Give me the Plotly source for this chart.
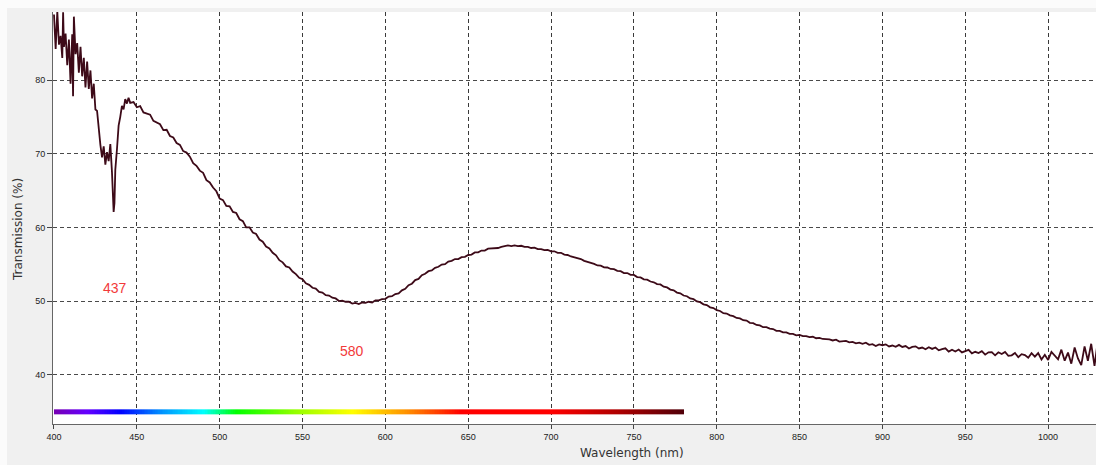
import plotly.graph_objects as go

# ---- measured transmission spectrum -------------------------------------
# Noisy short-wavelength region, sampled densely
head_nm = [400, 401, 402, 403, 404, 405, 405.5, 406, 407, 408, 409, 410, 411, 411.5,
           412, 413, 414, 415, 416, 417, 418, 419, 420, 421, 422, 423, 424, 425,
           426, 427, 428, 429, 430, 431, 432, 433, 434, 435, 435.5, 436, 436.5,
           437, 438, 439, 440, 441, 442, 443, 444, 445, 446]
head_T = [88.9, 84.2, 89.3, 84.8, 86.0, 83.0, 89.2, 84.5, 86.3, 82.0, 85.5, 79.5, 86.2, 77.8,
          88.6, 83.5, 85.0, 81.0, 84.5, 80.5, 83.0, 79.0, 82.5, 78.8, 81.3, 77.5, 79.5, 76.0,
          75.8, 73.0, 71.2, 69.5, 71.0, 68.5, 70.2, 69.0, 71.3, 67.5, 64.5, 62.1, 63.3,
          67.8, 70.6, 73.8, 75.0, 76.5, 76.0, 77.4, 76.8, 77.6, 76.9]

# Remainder of the scan, 2 nm steps from 448 nm to 1030 nm
body_nm = list(range(448, 1031, 2))
body_T = [
    77.0, 76.3, 76.45, 75.6, 75.45, 75.3, 74.45, 74.2, 74.0, 73.2,      # 448-466
    73.25, 72.4, 72.2, 71.45, 71.2, 70.35, 70.15, 69.6, 68.7, 68.35,    # 468-486
    67.7, 67.4, 66.4, 66.1, 65.4, 64.9, 63.9, 63.7, 62.9, 62.85,        # 488-506
    62.1, 61.95, 61.1, 60.85, 60.0, 60.0, 59.3, 59.1, 58.35, 58.05,     # 508-526
    57.4, 57.15, 56.55, 56.2, 55.55, 55.25, 54.7, 54.55, 54.0, 53.65,   # 528-546
    53.15, 52.95, 52.4, 52.2, 51.8, 51.7, 51.25, 51.15, 50.8, 50.75,    # 548-566
    50.45, 50.35, 50.0, 50.05, 49.9, 49.9, 49.65, 49.75, 49.6, 49.8,    # 568-586
    49.75, 49.9, 49.8, 50.1, 50.1, 50.25, 50.3, 50.6, 50.65, 50.95,     # 588-606
    51.05, 51.45, 51.65, 52.15, 52.35, 52.85, 53.0, 53.5, 53.7, 54.05,  # 608-626
    54.15, 54.5, 54.65, 54.95, 55.0, 55.35, 55.45, 55.7, 55.7, 55.95,   # 628-646
    56.0, 56.25, 56.3, 56.6, 56.6, 56.85, 56.85, 57.1, 57.1, 57.2,      # 648-666
    57.2, 57.35, 57.4, 57.55, 57.45, 57.55, 57.45, 57.5, 57.35, 57.35,  # 668-686
    57.2, 57.25, 57.05, 57.05, 56.9, 56.95, 56.75, 56.75, 56.55, 56.55, # 688-706
    56.3, 56.25, 56.05, 55.95, 55.75, 55.7, 55.45, 55.35, 55.15, 55.05, # 708-726
    54.83, 54.8, 54.58, 54.55, 54.35, 54.32, 54.1, 54.05, 53.8, 53.8,   # 728-746
    53.55, 53.55, 53.25, 53.2, 52.95, 52.9, 52.65, 52.55, 52.3, 52.25,  # 748-766
    51.95, 51.85, 51.55, 51.45, 51.15, 51.05, 50.75, 50.65, 50.35, 50.25, # 768-786
    49.95, 49.85, 49.55, 49.45, 49.15, 49.05, 48.75, 48.65, 48.35, 48.3,  # 788-806
    48.05, 47.95, 47.7, 47.65, 47.4, 47.35, 47.05, 47.0, 46.75, 46.7,   # 808-826
    46.45, 46.45, 46.25, 46.2, 45.95, 45.95, 45.75, 45.75, 45.55, 45.55, # 828-846
    45.35, 45.4, 45.25, 45.25, 45.1, 45.15, 44.95, 45.0, 44.85, 44.85,  # 848-866
    44.8, 44.65, 44.75, 44.5, 44.55, 44.6, 44.4, 44.45, 44.25, 44.35,   # 868-886
    44.2, 44.35, 44.05, 44.15, 43.9, 44.12, 44.0, 44.12, 43.84, 43.96,  # 888-906
    43.78, 44.05, 43.77, 43.89, 43.56, 43.78, 43.85, 43.57, 43.69, 43.46, # 908-926
    43.73, 43.5, 43.7, 43.31, 43.47, 43.58, 43.14, 43.4, 43.16, 43.42,  # 928-946
    43.03, 43.25, 43.37, 42.89, 43.11, 42.93, 43.2, 42.72, 43.04, 43.06, # 948-966
    42.63, 43.05, 42.82, 43.09, 42.56, 42.63, 42.95, 42.37, 42.79, 42.67, # 968-986
    42.3, 42.93, 42.46, 42.94, 42.07, 42.7, 42.0, 43.1, 42.6, 42.1,     # 988-1006
    43.4, 41.9, 43.0, 41.5, 43.7, 42.2, 41.3, 43.85, 41.9, 44.2,        # 1008-1026
    41.2, 44.6,                                                         # 1028-1030
]

wavelength = head_nm + body_nm
transmission = head_T + body_T

# Absorption minima marked on the chart
peak_nm = [437, 580]
peak_label_T = [51.8, 43.2]
peak_text = ["437", "580"]

# Visible-spectrum strip drawn under the curve
strip_start, strip_end = 400, 780
strip_y = [34.62, 35.30]
strip_edges = list(range(strip_start, strip_end + 1))
strip_centers = [w + 0.5 for w in range(strip_start, strip_end)]
strip_stops = [
    (400, "rgb(118,0,178)"), (420, "rgb(100,0,255)"), (440, "rgb(0,0,255)"),
    (465, "rgb(0,146,255)"), (490, "rgb(0,255,255)"), (510, "rgb(0,255,0)"),
    (545, "rgb(146,255,0)"), (580, "rgb(255,255,0)"), (612, "rgb(255,148,0)"),
    (645, "rgb(255,0,0)"), (700, "rgb(255,0,0)"), (740, "rgb(175,0,0)"),
    (780, "rgb(80,0,8)"),
]
strip_scale = [[(w - strip_start) / (strip_end - strip_start), c] for w, c in strip_stops]

x_range = [399.4, 1028.9]
y_range = [33.31, 89.23]

W, H = 1096, 465
ML, MR, MT, MB = 53, 0, 12, 41
plot_w = W - ML - MR
plot_h = H - MT - MB

fig = go.Figure()

fig.add_trace(go.Heatmap(
    x=strip_edges, y=strip_y, z=[strip_centers],
    zmin=strip_start, zmax=strip_end, colorscale=strip_scale,
    showscale=False, hoverinfo="skip",
))

fig.add_trace(go.Scatter(
    x=wavelength, y=transmission, mode="lines",
    line=dict(color="#3d0a18", width=1.8),
    hoverinfo="x+y", showlegend=False,
))

for x, y, t in zip(peak_nm, peak_label_T, peak_text):
    fig.add_annotation(x=x, y=y, text=t, showarrow=False,
                       xanchor="center", yanchor="middle",
                       font=dict(family="Liberation Sans, Arial", size=14, color="#f23a3a"))

# Axis titles placed as free text (pixel positions converted to paper units)
fig.add_annotation(xref="paper", yref="paper",
                   x=(18 - ML) / plot_w, y=(MT + plot_h - 230) / plot_h,
                   xanchor="center", yanchor="middle",
                   text="Transmission (%)", textangle=-90, showarrow=False,
                   font=dict(family="DejaVu Sans", size=12, color="#333333"))
fig.add_annotation(xref="paper", yref="paper",
                   x=(632 - ML) / plot_w, y=(MT + plot_h - 453) / plot_h,
                   xanchor="center", yanchor="middle",
                   text="Wavelength (nm)", showarrow=False,
                   font=dict(family="DejaVu Sans", size=12, color="#333333"))

# Light frame along the top and left window edges
fig.add_shape(type="rect", xref="paper", yref="paper",
              x0=-ML / plot_w, x1=1, y0=1 + 4 / plot_h, y1=1 + MT / plot_h,
              fillcolor="#fbfbfb", line=dict(width=0), layer="below")
fig.add_shape(type="rect", xref="paper", yref="paper",
              x0=-ML / plot_w, x1=-(ML - 7) / plot_w, y0=-MB / plot_h, y1=1 + MT / plot_h,
              fillcolor="#fbfbfb", line=dict(width=0), layer="below")

tick_font = dict(family="Liberation Sans, Arial", size=9, color="#222222")

fig.update_xaxes(
    range=x_range, tickmode="array", tickvals=list(range(400, 1001, 50)),
    showgrid=True, gridcolor="#3a3a3a", gridwidth=1, griddash="4px,3px",
    showline=True, linecolor="#666666", linewidth=1,
    ticks="outside", ticklen=4, tickcolor="#444444", tickfont=tick_font,
    zeroline=False,
)
fig.update_yaxes(
    range=y_range, tickmode="array", tickvals=[40, 50, 60, 70, 80],
    showgrid=True, gridcolor="#4a4a4a", gridwidth=1, griddash="4px,3px",
    showline=True, linecolor="#666666", linewidth=1,
    ticks="outside", ticklen=5, tickcolor="#444444", tickfont=tick_font,
    zeroline=False,
)

fig.update_layout(
    width=W, height=H,
    margin=dict(l=ML, r=MR, t=MT, b=MB, pad=0),
    paper_bgcolor="#f0f0f0", plot_bgcolor="#ffffff",
    showlegend=False,
)

fig.write_html("out.html")
